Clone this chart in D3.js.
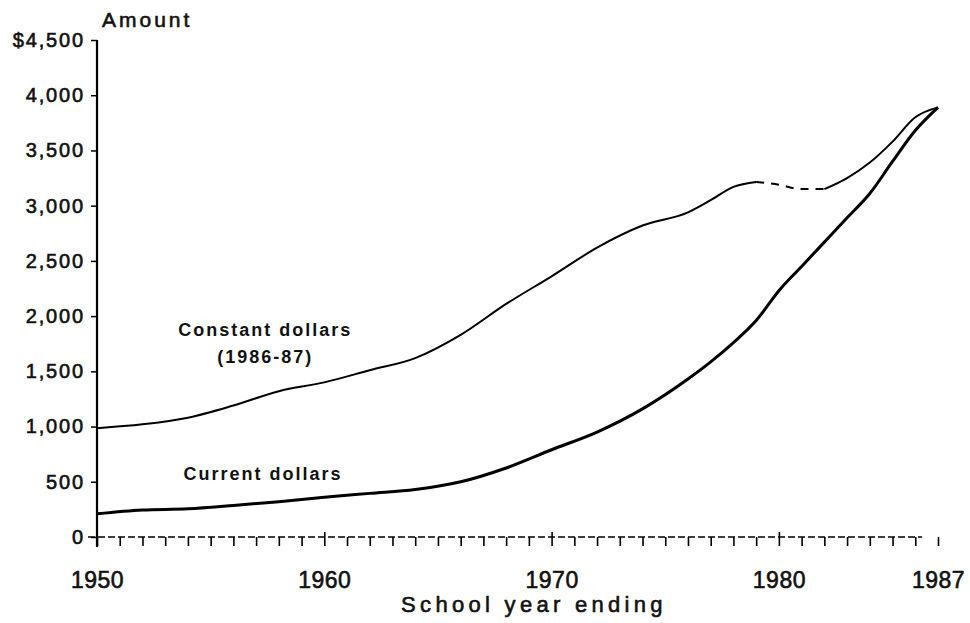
<!DOCTYPE html>
<html>
<head>
<meta charset="utf-8">
<script src="https://cdn.jsdelivr.net/npm/d3@7"></script>
<style>
  body { margin: 0; background: #fff; }
  svg { display: block; font-family: "Liberation Sans", Arial, sans-serif; }
  .heavy { stroke: #111; stroke-width: 0.6px; }
</style>
</head>
<body>
<div id="chart"></div>
<script>
// per-pupil expenditure, school year ending
const years = [1950, 1952, 1954, 1956, 1958, 1960, 1962, 1964, 1966, 1968, 1970, 1972, 1974, 1976,
  1977, 1978, 1979, 1980, 1981, 1982, 1983, 1984, 1985, 1986, 1987];
const constantDollars = [985, 1020, 1080, 1190, 1320, 1400, 1510, 1620, 1830, 2110, 2360, 2620, 2820, 2940,
  3050, 3170, 3215, 3190, 3150, 3150, 3250, 3390, 3580, 3800, 3890];
const currentDollars = [210, 245, 255, 285, 320, 360, 395, 430, 500, 625, 790, 950, 1160, 1430,
  1585, 1760, 1960, 2230, 2450, 2670, 2890, 3110, 3400, 3680, 3890];
const yTicks = [0, 500, 1000, 1500, 2000, 2500, 3000, 3500, 4000, 4500];
const xLabels = [1950, 1960, 1970, 1980, 1987];

const width = 970, height = 623;

const svg = d3.select('#chart')
  .append('svg')
  .attr('width', width)
  .attr('height', height);

const x = d3.scaleLinear().domain([1950, 1987]).range([97, 938]);
const y = d3.scaleLinear().domain([0, 4500]).range([537, 40]);

// y axis
const yAxis = svg.append('g')
  .attr('transform', `translate(${x(1950)},0)`)
  .call(d3.axisLeft(y)
    .tickValues(yTicks)
    .tickSize(6)
    .tickPadding(8)
    .tickFormat(d => d === 4500 ? '$4,500' : d3.format(',')(d)));
yAxis.select('.domain').remove();
yAxis.selectAll('line').attr('stroke', '#000').attr('stroke-width', 1.5);
yAxis.selectAll('text')
  .attr('class', 'heavy')
  .attr('fill', '#111')
  .style('font-size', '20px')
  .style('letter-spacing', '1.8px')
  .attr('dx', 1.8);
yAxis.append('line')
  .attr('x1', 0).attr('x2', 0)
  .attr('y1', y(4500)).attr('y2', y(0) + 10)
  .attr('stroke', '#000').attr('stroke-width', 2.2);
yAxis.append('line')
  .attr('x1', 0).attr('x2', 0)
  .attr('y1', y(4500)).attr('y2', y(4500) + 4)
  .attr('stroke', '#000').attr('stroke-width', 1.5);

// x axis: one tick per year, dashed baseline
const xAxis = svg.append('g')
  .attr('transform', `translate(0,${y(0)})`)
  .call(d3.axisBottom(x)
    .tickValues(d3.range(1950, 1988))
    .tickSize(9)
    .tickPadding(26)
    .tickFormat(d => xLabels.includes(d) ? d : ''));
xAxis.select('.domain').remove();
xAxis.selectAll('line').attr('stroke', '#000').attr('stroke-width', 1.6);
xAxis.selectAll('.tick')
  .filter(d => d === 1960 || d === 1970 || d === 1980)
  .select('line').attr('y1', -5);
xAxis.selectAll('text')
  .attr('class', 'heavy')
  .attr('fill', '#111')
  .style('font-size', '23px')
  .style('letter-spacing', '0.5px');
xAxis.insert('line', ':first-child')
  .attr('x1', x(1950) - 9).attr('x2', x(1986.3))
  .attr('stroke', '#000').attr('stroke-width', 1.3)
  .attr('stroke-dasharray', '7,3');

// lines
const constant = years.map((yr, i) => ({ year: yr, value: constantDollars[i] }));
const current = years.map((yr, i) => ({ year: yr, value: currentDollars[i] }));

const line = d3.line()
  .x(d => x(d.year))
  .y(d => y(d.value))
  .curve(d3.curveMonotoneX);

svg.append('path')
  .datum(current)
  .attr('d', line)
  .attr('fill', 'none')
  .attr('stroke', '#000')
  .attr('stroke-width', 3);

// constant dollars is broken up between 1979 and 1982
svg.append('path')
  .datum(constant)
  .attr('d', line.defined(d => d.year <= 1979 || d.year >= 1982))
  .attr('fill', 'none')
  .attr('stroke', '#000')
  .attr('stroke-width', 2);
line.defined(() => true);
svg.append('path')
  .datum(constant.filter(d => d.year >= 1979 && d.year <= 1982))
  .attr('d', line)
  .attr('fill', 'none')
  .attr('stroke', '#000')
  .attr('stroke-width', 2)
  .attr('stroke-dasharray', '8,7');

// labels
const bold = sel => sel
  .attr('text-anchor', 'middle')
  .attr('font-weight', 'bold')
  .style('font-size', '18px')
  .style('letter-spacing', '2px')
  .attr('fill', '#111');

svg.append('text').attr('x', x(1957.4)).attr('y', y(1820)).text('Constant dollars').call(bold);
svg.append('text').attr('x', x(1957.4)).attr('y', y(1575)).text('(1986-87)').call(bold);
svg.append('text').attr('x', x(1957.3)).attr('y', y(516)).text('Current dollars').call(bold);

svg.append('text')
  .attr('class', 'heavy')
  .attr('x', 102).attr('y', 27)
  .style('font-size', '21px')
  .style('letter-spacing', '3px')
  .attr('fill', '#111')
  .text('Amount');

svg.append('text')
  .attr('class', 'heavy')
  .attr('x', 534).attr('y', 612)
  .attr('text-anchor', 'middle')
  .style('font-size', '22px')
  .style('letter-spacing', '4.3px')
  .attr('fill', '#111')
  .text('School year ending');
</script>
</body>
</html>
